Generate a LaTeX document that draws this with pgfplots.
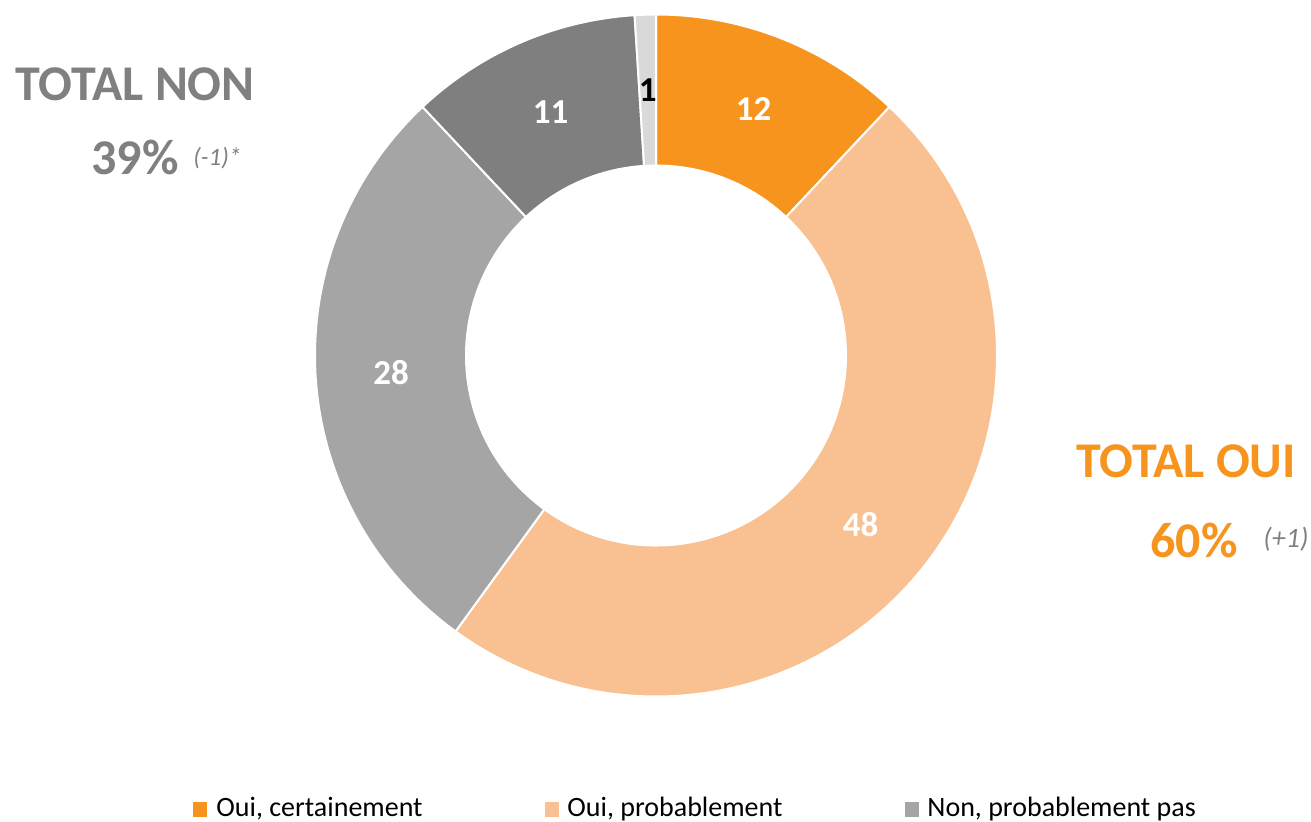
\documentclass[border=0pt]{standalone}
\usepackage{fontspec}
\setmainfont{Carlito}
\usepackage{pgfplots}
\usepackage{pgfplotstable}
\pgfplotsset{compat=1.18}
\definecolor{cOC}{HTML}{F7941E}
\definecolor{cOP}{HTML}{F9C191}
\definecolor{cNP}{HTML}{A5A5A5}
\definecolor{cNC}{HTML}{7F7F7F}
\definecolor{cNS}{HTML}{D9D9D9}
\definecolor{tgray}{HTML}{808080}
\pgfplotstableread{
value col labcol
12 cOC white
48 cOP white
28 cNP white
11 cNC white
1 cNS black
}\datatable
\begin{document}
\begin{tikzpicture}
\begin{axis}[x=0.5pt,y=0.5pt,xmin=0,xmax=1311,ymin=0,ymax=821,hide axis,clip=false]
\def\cx{656}\def\cy{465.5}\def\R{341}\def\r{190}
\def\cum{0}
\pgfplotsforeachungrouped \i in {0,...,4}{%
  \pgfplotstablegetelem{\i}{value}\of\datatable \let\v\pgfplotsretval
  \pgfplotstablegetelem{\i}{col}\of\datatable \let\c\pgfplotsretval
  \pgfplotstablegetelem{\i}{labcol}\of\datatable \let\lc\pgfplotsretval
  \pgfmathsetmacro\a{90-3.6*\cum}
  \pgfmathsetmacro\cum{\cum+\v}
  \pgfmathsetmacro\b{90-3.6*\cum}
  \pgfmathsetmacro\m{(\a+\b)/2}
  \pgfmathsetmacro\xo{\cx+\R*cos(\a)}
  \pgfmathsetmacro\yo{\cy+\R*sin(\a)}
  \pgfmathsetmacro\xi{\cx+\r*cos(\b)}
  \pgfmathsetmacro\yi{\cy+\r*sin(\b)}
  \pgfmathsetmacro\xl{\cx+265.5*cos(\m)}
  \pgfmathsetmacro\yl{\cy+265.5*sin(\m)}
  \pgfmathtruncatemacro\vv{\v}
  \edef\temp{\noexpand\fill[\c, draw=white, line width=1pt] (axis cs:\xo,\yo) arc[start angle=\a, end angle=\b, radius=170.5pt] -- (axis cs:\xi,\yi) arc[start angle=\b, end angle=\a, radius=95pt] -- cycle;
  \noexpand\node[text=\lc, font=\noexpand\fontsize{17.5}{20}\noexpand\selectfont\noexpand\bfseries] at (axis cs:\xl,\yl) {\vv};}
  \temp
}
% totals
\node[anchor=base west, text=tgray, font=\fontsize{25}{29}\selectfont\bfseries, inner sep=0pt] at (axis cs:15,720) {TOTAL NON};
\node[anchor=base west, text=tgray, font=\fontsize{25}{29}\selectfont\bfseries, inner sep=0pt] at (axis cs:91,647) {39\%};
\node[anchor=base west, text=tgray, font=\fontsize{12.5}{15}\selectfont\itshape, inner sep=0pt] at (axis cs:193,656) {(-1)*};
\node[anchor=base west, text=cOC, font=\fontsize{25}{29}\selectfont\bfseries, inner sep=0pt] at (axis cs:1076,344) {TOTAL OUI};
\node[anchor=base west, text=cOC, font=\fontsize{25}{29}\selectfont\bfseries, inner sep=0pt] at (axis cs:1150,264) {60\%};
\node[anchor=base west, text=tgray, font=\fontsize{14}{17}\selectfont\itshape, inner sep=0pt] at (axis cs:1263,274) {(+1)};
% legend
\fill[cOC] (axis cs:193,4) rectangle (axis cs:207,19);
\node[anchor=base west, inner sep=0pt, font=\fontsize{14}{17}\selectfont] at (axis cs:216,5) {Oui, certainement};
\fill[cOP] (axis cs:545,4) rectangle (axis cs:559,19);
\node[anchor=base west, inner sep=0pt, font=\fontsize{14}{17}\selectfont] at (axis cs:567,5) {Oui, probablement};
\fill[cNP] (axis cs:905,4) rectangle (axis cs:919,19);
\node[anchor=base west, inner sep=0pt, font=\fontsize{14}{17}\selectfont] at (axis cs:927,5) {Non, probablement pas};
\end{axis}
\pgfresetboundingbox
\useasboundingbox (current axis.south west) rectangle (current axis.north east);
\end{tikzpicture}
\end{document}
